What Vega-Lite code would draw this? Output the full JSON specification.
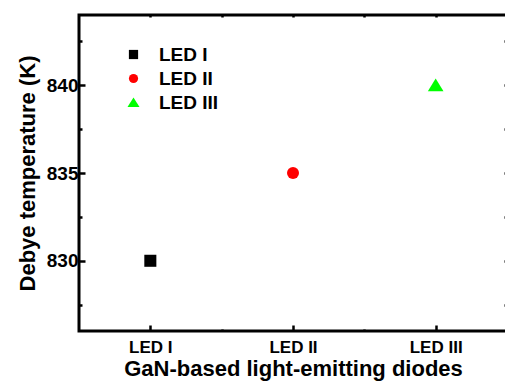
{
  "$schema": "https://vega.github.io/schema/vega-lite/v6.json",
  "width": 428,
  "height": 316,
  "autosize": {"type": "none"},
  "padding": {"left": 79, "top": 15, "right": 0, "bottom": 50},
  "background": "white",
  "config": {
    "view": {"stroke": "black", "strokeWidth": 3},
    "font": "Liberation Sans",
    "axis": {"grid": false, "domain": false, "tickColor": "black", "tickWidth": 2.5, "labelColor": "black", "titleColor": "black", "labelFont": "Liberation Sans", "titleFont": "Liberation Sans", "labelFontWeight": "bold", "titleFontWeight": "bold"}
  },
  "data": {"values": [
    {"led": "LED I", "x": 1, "t": 830},
    {"led": "LED II", "x": 2, "t": 835},
    {"led": "LED III", "x": 3, "t": 840}
  ]},
  "layer": [
    {
      "mark": {"type": "point", "filled": true, "opacity": 1, "size": 145},
      "encoding": {
        "x": {"field": "x", "type": "quantitative", "scale": {"domain": [0.5, 3.5], "nice": false, "zero": false},
          "axis": {"orient": "bottom", "values": [1, 1.5, 2, 2.5, 3], "labelExpr": "datum.value === 1 ? 'LED I' : datum.value === 2 ? 'LED II' : datum.value === 3 ? 'LED III' : ''",
            "tickSize": {"condition": {"test": "datum.value % 1 === 0", "value": -6}, "value": -2},
            "labelFontSize": 17, "labelPadding": 14, "title": "GaN-based light-emitting diodes", "titleFontSize": 22, "titlePadding": 3}},
        "y": {"field": "t", "type": "quantitative", "scale": {"domain": [826, 844], "nice": false, "zero": false},
          "axis": {"orient": "left", "values": [827.5, 830, 832.5, 835, 837.5, 840, 842.5], "labelExpr": "datum.value % 5 === 0 ? datum.value : ''",
            "tickSize": {"condition": {"test": "datum.value % 5 === 0", "value": -6}, "value": -3},
            "labelFontSize": 19, "labelPadding": 7, "title": "Debye temperature (K)", "titleFontSize": 22, "titlePadding": 7}},
        "shape": {"field": "led", "type": "nominal", "scale": {"domain": ["LED I", "LED II", "LED III"], "range": ["square", "circle", "M0,-1.1L1.3,1L-1.3,1Z"]},
          "legend": {"title": null, "orient": "none", "legendX": 45, "legendY": 30, "labelFontSize": 19, "labelFont": "Liberation Sans", "labelFontWeight": "bold", "labelColor": "black", "symbolSize": 85, "rowPadding": 4, "labelOffset": 16, "padding": 0}},
        "color": {"field": "led", "type": "nominal", "scale": {"domain": ["LED I", "LED II", "LED III"], "range": ["#000000", "#ff0000", "#00ff00"]}}
      }
    },
    {
      "mark": {"type": "point", "opacity": 0},
      "encoding": {
        "x": {"field": "x", "type": "quantitative", "scale": {"domain": [0.5, 3.5], "nice": false, "zero": false},
          "axis": {"orient": "top", "values": [1, 1.5, 2, 2.5, 3], "labels": false, "title": null, "tickSize": -2}},
        "y": {"field": "t", "type": "quantitative", "scale": {"domain": [826, 844], "nice": false, "zero": false},
          "axis": {"orient": "right", "values": [827.5, 830, 832.5, 835, 837.5, 840, 842.5], "labels": false, "title": null, "tickSize": -3}}
      }
    }
  ],
  "resolve": {"axis": {"x": "independent", "y": "independent"}}
}
